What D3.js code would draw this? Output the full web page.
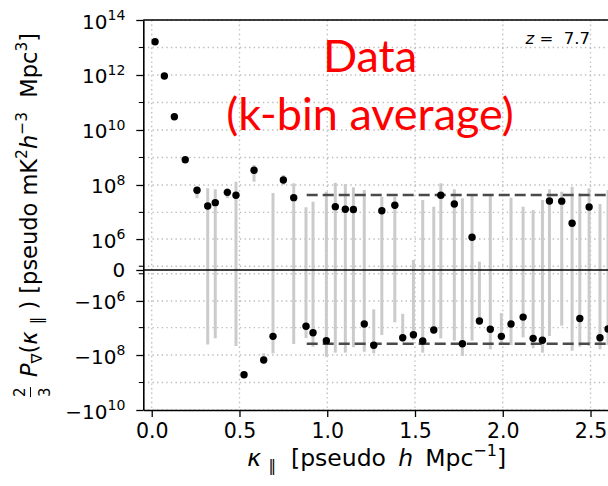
<!DOCTYPE html>
<html>
<head>
<meta charset="utf-8">
<script src="https://cdn.jsdelivr.net/npm/d3@7"></script>
<style>
  body { margin: 0; background: #fff; }
  svg { display: block; font-family: "DejaVu Sans", sans-serif; }
</style>
</head>
<body>
<svg width="608" height="486"></svg>
<script>
// k-bin centres (pseudo h/Mpc)
const kpar = [0.019, 0.072, 0.129, 0.191, 0.258, 0.319, 0.362, 0.431, 0.480, 0.526,
  0.583, 0.638, 0.691, 0.750, 0.809, 0.879, 0.919, 0.995, 1.046, 1.103,
  1.149, 1.211, 1.265, 1.311, 1.385, 1.430, 1.491, 1.544, 1.607, 1.647,
  1.724, 1.770, 1.825, 1.867, 1.929, 1.992, 2.047, 2.116, 2.173, 2.226,
  2.266, 2.336, 2.395, 2.439, 2.492, 2.554, 2.600];

// bin-averaged power
const power = [1.62e13, 9.2e11, 3.04e10, 8.3e8, 6.4e7, 1.72e7, 2.27e7, 5.4e7, 4.2e7, -5.2e8,
  3.42e8, -1.52e8, -2.09e7, 1.52e8, 3.45e7, -8.9e6, -1.54e7, -3.0e7, 1.62e7, 1.30e7,
  1.28e7, -7.4e6, -4.4e7, 1.15e7, 1.82e7, -2.34e7, -1.82e7, -3.09e7, -1.22e7, 4.2e7,
  2.03e7, -3.87e7, 1.17e6, -5.7e6, -1.15e7, -2.09e7, -7.4e6, -4.1e6, -2.47e7, -2.91e7,
  2.61e7, 2.58e7, 3.96e6, -4.6e6, 1.58e7, -2.34e7, -1.13e7];

// error bar ends
const errHigh = [1.9e13, 1.05e12, 3.4e10, 9.5e8, 8.7e7, 7.6e7, 7.0e7, 7.8e7, 1.32e8, -4.0e8,
  5.3e8, -8.7e7, 5.1e7, 2.3e8, 1.15e8, 1.53e7, 2.47e7, 5.7e7, 1.21e8, 1.09e8,
  8.2e7, 6.6e7, -2.1e6, 3.75e7, 3.75e7, -3.1e6, 1.06e5, 2.84e7, 1.62e7, 1.15e8,
  7.0e7, 3.3e7, 4.0e7, 8.1e4, 4.0e7, -2.9e6, 3.45e7, 1.62e7, 1.23e7, 2.84e7,
  7.0e7, 5.7e7, 8.7e7, 5.0e7, 7.6e7, 2.03e7, 6.6e7];
const errLow = [1.4e13, 8e11, 2.7e10, 7.2e8, 3.3e7, -4.1e7, -2.47e7, 3.35e7, -4.7e7, -6.7e8,
  1.32e8, -2.0e8, -8.7e7, 1.0e8, -4.0e7, -2.4e7, -5.0e7, -1.15e8, -8.2e7, -8.2e7,
  -5.2e7, -7.6e7, -8.7e7, -1.87e7, -6.4e6, -3.3e7, -2.84e7, -8.2e7, -1.62e7, -2.47e7,
  -3.0e7, -1.09e8, -3.0e7, -6.9e6, -6.2e7, -3.56e7, -4.3e7, -2.27e7, -5.7e7, -8.2e7,
  -2.03e7, -8.5e6, -7.0e7, -5.0e7, -4.7e7, -6.2e7, -4.3e7];

// noise level (dashed) and where it starts
const noiseUpper = 4.3e7;
const noiseLower = -3.9e7;
const noiseStart = 0.883;

// ticks
const xTicks = [0, 0.5, 1.0, 1.5, 2.0, 2.5];
const yMajor = [1e14, 1e12, 1e10, 1e8, 1e6, 0, -1e6, -1e8, -1e10];
const yMinor = [1e13, 1e11, 1e9, 1e7, 3e4, -3e4, -1e7, -1e9];

const data = kpar.map((k, i) => ({ k, p: power[i], hi: errHigh[i], lo: errLow[i] }));

const svg = d3.select("svg");
const pLeft = 143.3, pRight = 610, pTop = 20, pBottom = 410;
const nb = "\u00a0", thin = "\u2009";

const xScale = d3.scaleLinear().domain([-0.048, 2.611]).range([pLeft, pRight]);
const yScale = d3.scaleSymlog().constant(81000).domain([-1e10, 1e14]).range([pBottom, pTop]);

svg.append("defs").append("clipPath").attr("id", "plot")
  .append("rect").attr("x", pLeft).attr("y", pTop)
  .attr("width", pRight - pLeft).attr("height", pBottom - pTop);

// gitter
const grid = svg.append("g").attr("stroke", "#bdbdbd").attr("stroke-width", 1.4)
  .attr("stroke-dasharray", "1.4,3.2");
grid.selectAll(".gx").data(xTicks).join("line")
  .attr("x1", d => xScale(d)).attr("x2", d => xScale(d))
  .attr("y1", pTop).attr("y2", pBottom);
grid.selectAll(".gy").data(yMajor.concat(yMinor).filter(d => d !== 0)).join("line")
  .attr("x1", pLeft).attr("x2", pRight)
  .attr("y1", d => yScale(d)).attr("y2", d => yScale(d));

const plot = svg.append("g").attr("clip-path", "url(#plot)");

// error bars
plot.selectAll(".err").data(data).join("line")
  .attr("x1", d => xScale(d.k)).attr("x2", d => xScale(d.k))
  .attr("y1", d => yScale(d.hi)).attr("y2", d => yScale(d.lo))
  .attr("stroke", "#cbcbcb").attr("stroke-width", 3);

// zero line
plot.append("line")
  .attr("x1", pLeft).attr("x2", pRight)
  .attr("y1", yScale(0)).attr("y2", yScale(0))
  .attr("stroke", "#000").attr("stroke-width", 1.6);

// noise level
plot.selectAll(".noise").data([noiseUpper, noiseLower]).join("line")
  .attr("x1", xScale(noiseStart)).attr("x2", pRight)
  .attr("y1", d => yScale(d)).attr("y2", d => yScale(d))
  .attr("stroke", "#4a4a4a").attr("stroke-width", 2.6)
  .attr("stroke-dasharray", "11,5");

// points
plot.selectAll(".pt").data(data).join("circle")
  .attr("cx", d => xScale(d.k)).attr("cy", d => yScale(d.p))
  .attr("r", 3.7).attr("fill", "#000");

// x-akse
const xAxis = svg.append("g")
  .attr("transform", `translate(0,${pBottom})`)
  .call(d3.axisBottom(xScale).tickValues(xTicks).tickFormat(d3.format(".1f"))
    .tickSize(7).tickSizeOuter(0).tickPadding(6));
xAxis.select(".domain").attr("stroke-width", 1.6);
xAxis.selectAll(".tick line").attr("stroke-width", 1.3);
xAxis.selectAll("text").attr("font-size", 20.5).attr("font-family", "DejaVu Sans").attr("fill", "#000");

// y-akse
const yAxis = svg.append("g")
  .attr("transform", `translate(${pLeft},0)`)
  .call(d3.axisLeft(yScale).tickValues(yMajor).tickFormat(() => "")
    .tickSize(7).tickSizeOuter(0));
yAxis.select(".domain").attr("stroke-width", 1.6);
yAxis.selectAll(".tick line").attr("stroke-width", 1.3);
yAxis.selectAll(".tick").each(function (d) {
  const t = d3.select(this).append("text")
    .attr("x", -18).attr("fill", "#000").attr("font-size", 20)
    .attr("font-family", "DejaVu Sans").attr("text-anchor", "end");
  if (d === 0) {
    t.attr("y", 7).text("0");
    return;
  }
  const exp = Math.round(Math.log10(Math.abs(d)));
  t.attr("y", 8);
  t.append("tspan").text((d < 0 ? "\u2212" : "") + "10");
  t.append("tspan").attr("dy", -8.5).attr("font-size", 14).text(exp);
});
svg.append("g").attr("transform", `translate(${pLeft},0)`)
  .selectAll("line").data(yMinor).join("line")
  .attr("x1", -4.5).attr("x2", 0)
  .attr("y1", d => yScale(d)).attr("y2", d => yScale(d))
  .attr("stroke", "#000").attr("stroke-width", 1.1);

// top spine
svg.append("line").attr("x1", pLeft).attr("x2", pRight).attr("y1", pTop).attr("y2", pTop)
  .attr("stroke", "#000").attr("stroke-width", 1.6);

// hjælper til tekst med hævet/sænket skrift
function richText(sel, parts) {
  let shift = 0;
  parts.forEach(p => {
    const off = p.sup ? -p.sup : (p.sub ? p.sub : 0);
    const t = sel.append("tspan").text(p.t).attr("dy", off - shift);
    shift = off;
    if (p.size) t.attr("font-size", p.size);
    if (p.it) t.attr("font-style", "italic");
  });
}

// x label
const xl = svg.append("text")
  .attr("x", (pLeft + pRight) / 2).attr("y", 466)
  .attr("text-anchor", "middle").attr("font-size", 23.5).attr("fill", "#000");
richText(xl, [
  { t: "\u03ba" + nb, it: true },
  { t: "\u2016", sub: 5, size: 15 },
  { t: nb + nb + "[pseudo" + nb + thin },
  { t: "h", it: true },
  { t: nb + thin + "Mpc" },
  { t: "\u22121", sup: 10, size: 16 },
  { t: "]" }
]);

// y label
const yl = svg.append("g").attr("transform", "translate(37,215) rotate(-90)");
const ylText = yl.append("text").attr("font-size", 22.5).attr("fill", "#000");
richText(ylText, [
  { t: "P", it: true },
  { t: "\u2207", sub: 4.5, size: 15 },
  { t: "(" },
  { t: "\u03ba" + nb, it: true },
  { t: "\u2016", sub: 4.5, size: 15 },
  { t: nb + ")" + nb + "[pseudo" + nb + "mK" },
  { t: "2", sup: 10, size: 15.5 },
  { t: "h", it: true },
  { t: "\u22123", sup: 10, size: 15.5 },
  { t: nb + nb + "Mpc" },
  { t: "3", sup: 10, size: 15.5 },
  { t: "]" }
]);
const L = ylText.node().getComputedTextLength();
const start = -(L + 20) / 2;
ylText.attr("x", start + 20);
const fx = start + 5;
yl.append("text").attr("x", fx).attr("y", -12).attr("text-anchor", "middle")
  .attr("font-size", 15).text("2");
yl.append("text").attr("x", fx).attr("y", 13).attr("text-anchor", "middle")
  .attr("font-size", 15).text("3");
yl.append("line").attr("x1", fx - 5).attr("x2", fx + 5)
  .attr("y1", -6.5).attr("y2", -6.5).attr("stroke", "#000").attr("stroke-width", 1);

// redshift
const zt = svg.append("text").attr("x", 590).attr("y", 44)
  .attr("text-anchor", "end").attr("font-size", 16.5).attr("fill", "#000");
zt.append("tspan").attr("font-style", "italic").text("z");
zt.append("tspan").text(nb + "=" + nb + nb + "7.7");

// red annotation
const ann = svg.append("g").attr("fill", "#ff0000")
  .attr("font-family", "Lato, 'Open Sans', sans-serif").attr("text-anchor", "middle")
  .attr("font-size", 45);
ann.append("text").attr("x", 370).attr("y", 72).text("Data");
ann.append("text").attr("x", 370).attr("y", 130).text("(k-bin average)");
</script>
</body>
</html>
